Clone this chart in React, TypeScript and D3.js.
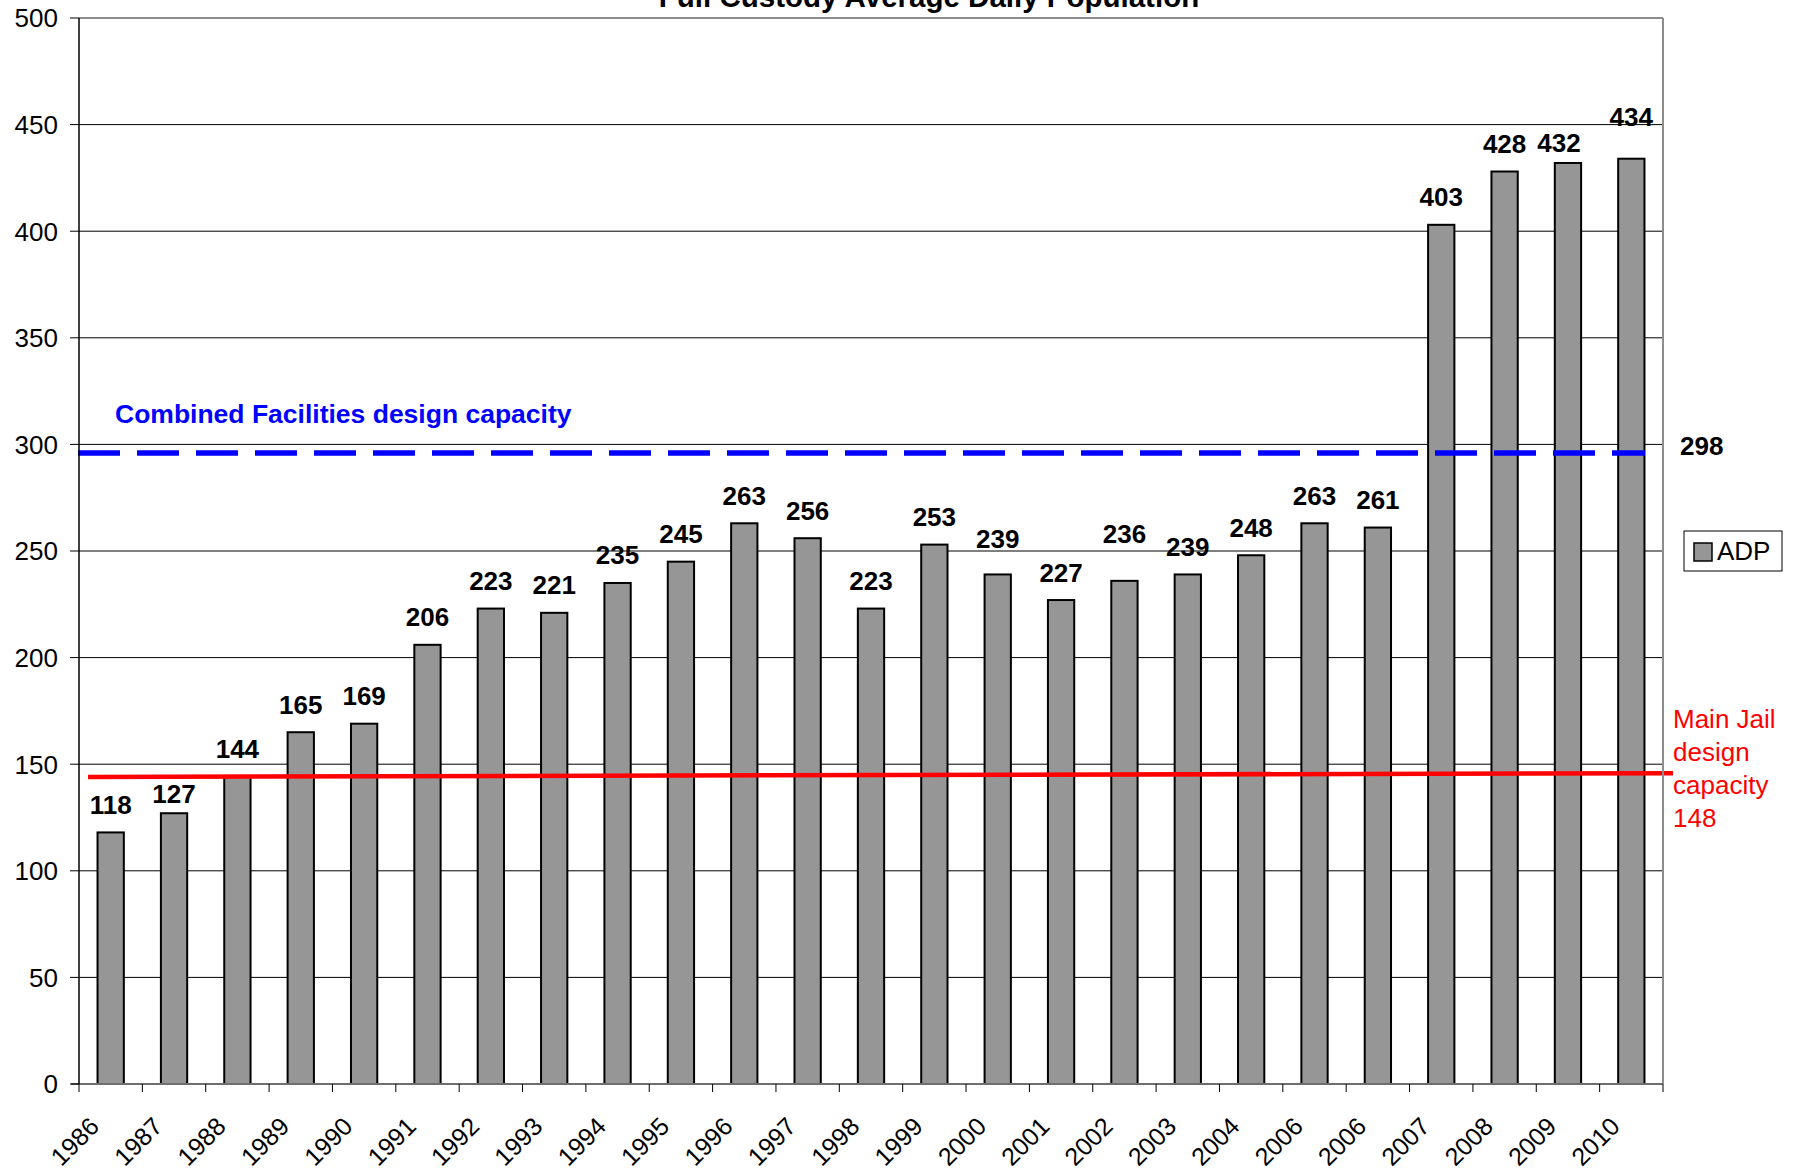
import React from 'react';
import * as d3 from 'd3';

const categories = [
  '1986', '1987', '1988', '1989', '1990', '1991', '1992', '1993', '1994', '1995',
  '1996', '1997', '1998', '1999', '2000', '2001', '2002', '2003', '2004', '2006',
  '2006', '2007', '2008', '2009', '2010',
];
const adp = [
  118, 127, 144, 165, 169, 206, 223, 221, 235, 245,
  263, 256, 223, 253, 239, 227, 236, 239, 248, 263,
  261, 403, 428, 432, 434,
];
const yTicks = [0, 50, 100, 150, 200, 250, 300, 350, 400, 450, 500];

const combinedLine = 296;
const combinedValue = 298;
const combinedText = 'Combined Facilities design capacity';
const mainJailLine = [144, 145.8];
const mainJailText = ['Main Jail', 'design', 'capacity', '148'];
const title = 'Full Custody Average Daily Population';

// hand placed labels in the original (index -> [dx, dy])
const labelNudge: Record<number, [number, number]> = {
  1: [0, 8],
  14: [0, -8],
  16: [0, -19],
  23: [-9, 8],
  24: [0, -14],
};

const W = 1797;
const H = 1169;
const plot = { left: 79, right: 1663, top: 18, bottom: 1084 };
const font = "'Liberation Sans', Arial, sans-serif";
const barFill = '#969696';

const App: React.FC = () => {
  const x = d3.scaleBand<number>()
    .domain(d3.range(adp.length))
    .range([plot.left, plot.right])
    .paddingInner(0.585)
    .paddingOuter(0.2925);

  const y = d3.scaleLinear()
    .domain([0, 500])
    .range([plot.bottom, plot.top]);

  const step = x.step();
  const bw = x.bandwidth();
  const cx = (i: number) => (x(i) as number) + bw / 2;
  const boundaries = d3.range(adp.length + 1).map(k => plot.left + k * step);

  const redLine = d3.line<number>()
    .x((_, i) => (i === 0 ? plot.left + 9 : plot.right + 10))
    .y(d => y(d));

  return (
    <svg width={W} height={H} style={{ position: 'absolute', left: 0, top: 0, background: '#fff' }}
      fontFamily={font}>
      <rect x={0} y={0} width={W} height={H} fill="#fff" />

      {/* title, partly off the top edge like the original */}
      <text x={929} y={7} textAnchor="middle" fontSize={29.5} fontWeight="bold">{title}</text>

      {/* gridlines */}
      {yTicks.filter(t => t > 0 && t < 500).map(t => (
        <line key={t} x1={plot.left} x2={plot.right} y1={y(t)} y2={y(t)} stroke="#000" strokeWidth={1} />
      ))}

      {/* bars */}
      {adp.map((v, i) => (
        <rect key={i} x={x(i)} y={y(v)} width={bw} height={y(0) - y(v)}
          fill={barFill} stroke="#000" strokeWidth={2} />
      ))}

      {/* main jail capacity line */}
      <path d={redLine(mainJailLine) || ''} stroke="#ff0000" strokeWidth={4.5} fill="none" />

      {/* combined facilities capacity line */}
      <line x1={plot.left - 1} x2={plot.right - 18} y1={y(combinedLine)} y2={y(combinedLine)}
        stroke="#0000ff" strokeWidth={5.5} strokeDasharray="42 17" />

      {/* plot border */}
      <line x1={plot.left} x2={plot.right} y1={plot.top} y2={plot.top} stroke="#8c8c8c" strokeWidth={2} />
      <line x1={plot.right} x2={plot.right} y1={plot.top} y2={plot.bottom} stroke="#8c8c8c" strokeWidth={2} />
      <line x1={plot.left - 8} x2={plot.right} y1={plot.bottom} y2={plot.bottom} stroke="#6e6e6e" strokeWidth={2} />
      <line x1={plot.left} x2={plot.left} y1={plot.top} y2={plot.bottom} stroke="#000" strokeWidth={1.5} />

      {/* y axis */}
      {yTicks.map(t => (
        <g key={t}>
          <line x1={plot.left - 9} x2={plot.left} y1={y(t)} y2={y(t)} stroke="#000" strokeWidth={1} />
          <text x={plot.left - 21} y={y(t)} dy="0.36em" textAnchor="end" fontSize={26}>{t}</text>
        </g>
      ))}

      {/* x axis */}
      {boundaries.map((b, k) => (
        <line key={k} x1={b} x2={b} y1={plot.bottom} y2={plot.bottom + 8} stroke="#000" strokeWidth={1} />
      ))}
      {categories.map((c, i) => (
        <text key={i} transform={`translate(${cx(i) - 10},${plot.bottom + 44}) rotate(-45)`}
          textAnchor="end" fontSize={25}>{c}</text>
      ))}

      {/* value labels */}
      {adp.map((v, i) => {
        const [dx, dy] = labelNudge[i] || [0, 0];
        return (
          <text key={i} x={cx(i) + dx} y={y(v) - 18.5 + dy} textAnchor="middle"
            fontSize={26} fontWeight="bold">{v}</text>
        );
      })}

      {/* annotations */}
      <text x={plot.left + 36} y={y(combinedLine) - 30} fontSize={26.5} fontWeight="bold" fill="#0000ff">
        {combinedText}
      </text>
      <text x={plot.right + 17} y={y(combinedLine) + 2} fontSize={26} fontWeight="bold">{combinedValue}</text>
      <text x={plot.right + 10} y={y(mainJailLine[1]) - 45} fontSize={26} fill="#ff0000">
        {mainJailText.map((s, k) => (
          <tspan key={k} x={plot.right + 10} dy={k === 0 ? 0 : 33}>{s}</tspan>
        ))}
      </text>

      {/* legend */}
      <g>
        <rect x={plot.right + 21} y={531} width={98} height={40} fill="#fff" stroke="#000" strokeWidth={1} />
        <rect x={plot.right + 31} y={543} width={18} height={18} fill={barFill} stroke="#000" strokeWidth={1.5} />
        <text x={plot.right + 54} y={560} fontSize={26}>ADP</text>
      </g>
    </svg>
  );
};

export default App;
